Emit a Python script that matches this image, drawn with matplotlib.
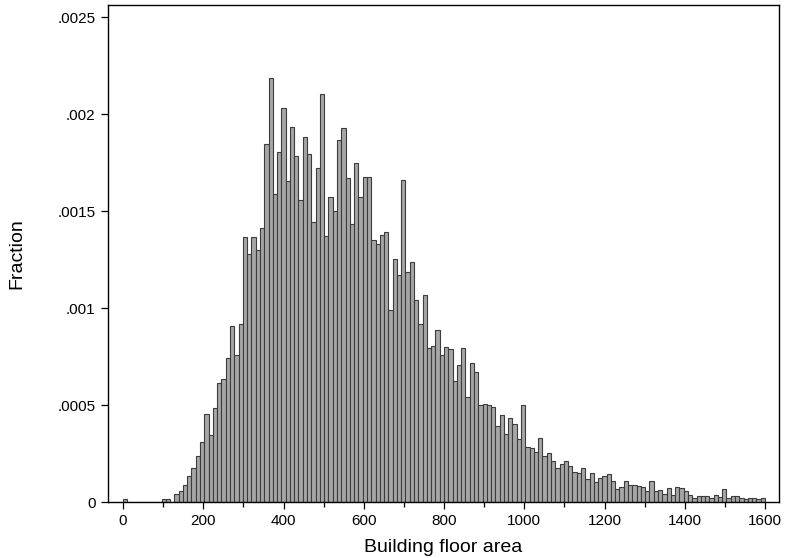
import numpy as np
import matplotlib
matplotlib.use("Agg")
import matplotlib.pyplot as plt
from matplotlib.ticker import MultipleLocator

plt.rcParams['font.family'] = ['Liberation Sans', 'DejaVu Sans']

# histogram of building floor area: 150 bins between 0 and 1600
area_min = 0
area_max = 1600
fractions = [
    0.000018, 0.000003, 0.000004, 0.000003, 0.000003, 0.000004, 0.000003, 0.000004, 0.0, 0.000020,
    0.000020, 0.0, 0.000046, 0.000058, 0.000091, 0.000136, 0.000179, 0.000239, 0.000311, 0.000457,
    0.000349, 0.000488, 0.000615, 0.000636, 0.000744, 0.000909, 0.000762, 0.000921, 0.001368, 0.001282,
    0.001368, 0.001299, 0.001414, 0.001846, 0.002190, 0.001589, 0.001805, 0.002032, 0.001657, 0.001937,
    0.001786, 0.001559, 0.001882, 0.001798, 0.001445, 0.001725, 0.002107, 0.001376, 0.001577, 0.001500,
    0.001866, 0.001930, 0.001670, 0.001433, 0.001751, 0.001574, 0.001677, 0.001680, 0.001351, 0.001333,
    0.001380, 0.001393, 0.000990, 0.001256, 0.001174, 0.001660, 0.001187, 0.001242, 0.001045, 0.000921,
    0.001070, 0.000797, 0.000804, 0.000890, 0.000758, 0.000800, 0.000792, 0.000625, 0.000711, 0.000797,
    0.000546, 0.000717, 0.000672, 0.000505, 0.000509, 0.000500, 0.000491, 0.000392, 0.000452, 0.000354,
    0.000433, 0.000406, 0.000328, 0.000500, 0.000285, 0.000282, 0.000259, 0.000333, 0.000239, 0.000255,
    0.000212, 0.000177, 0.000196, 0.000213, 0.000186, 0.000156, 0.000151, 0.000177, 0.000122, 0.000151,
    0.000105, 0.000127, 0.000134, 0.000146, 0.000113, 0.000071, 0.000079, 0.000112, 0.000089, 0.000089,
    0.000086, 0.000081, 0.000058, 0.000111, 0.000060, 0.000066, 0.000045, 0.000076, 0.000038, 0.000081,
    0.000076, 0.000060, 0.000040, 0.000024, 0.000035, 0.000031, 0.000035, 0.000021, 0.000040, 0.000030,
    0.000067, 0.000021, 0.000031, 0.000035, 0.000024, 0.000020, 0.000021, 0.000021, 0.000016, 0.000021,
]
y_ticks = [0, 0.0005, 0.001, 0.0015, 0.002, 0.0025]
y_labels = ["0", ".0005", ".001", ".0015", ".002", ".0025"]
x_ticks = [0, 200, 400, 600, 800, 1000, 1200, 1400, 1600]

n_bins = len(fractions)
edges = np.linspace(area_min, area_max, n_bins + 1)
width = edges[1] - edges[0]

fig = plt.figure(figsize=(7.86, 5.58), dpi=100)
ax = fig.add_axes([0.1374, 0.0995, 0.8537, 0.8915])

ax.bar(edges[:-1], fractions, width=width, align="edge",
       facecolor="#a6a6a6", edgecolor="#3c3c3c", linewidth=0.8)

ax.set_xlim(-37.4, 1634.9)
ax.set_ylim(0, 0.002564)

ax.set_yticks(y_ticks)
ax.set_yticklabels(y_labels)
ax.set_xticks(x_ticks)
ax.xaxis.set_minor_locator(MultipleLocator(100))

ax.tick_params(axis="both", which="major", direction="out", length=5, width=0.9,
               labelsize=11, colors="black")
ax.tick_params(axis="x", which="minor", direction="out", length=3.5, width=0.9)
ax.tick_params(axis="y", pad=4)
ax.tick_params(axis="x", pad=3)

for side in ax.spines.values():
    side.set_linewidth(1.0)
    side.set_color("black")

ax.set_xlabel("Building floor area", fontsize=14, labelpad=8)
ax.set_ylabel("Fraction", fontsize=14, labelpad=23)

fig.savefig("out.png", dpi=100)
